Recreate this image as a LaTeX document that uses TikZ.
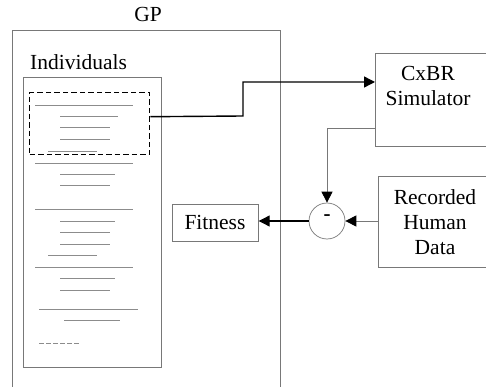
\documentclass[tikz,border=0pt]{standalone}
\usepackage{fontspec}
\setmainfont{Liberation Serif}
\usetikzlibrary{arrows.meta}
\definecolor{boxgray}{RGB}{120,120,120}
\definecolor{linegray}{RGB}{140,140,140}
\tikzset{
  frame/.style={draw=boxgray, line width=0.7pt, inner sep=0pt, anchor=north west},
  label/.style={inner sep=0pt, align=center, font=\fontsize{21.5}{25}\selectfont},
  codeline/.style={draw=linegray, line width=0.7pt},
  tip/.style={-{Triangle[length=11pt,width=11pt,black]}},
  flow/.style={tip, draw=black, line width=1.4pt},
  feed/.style={tip, draw=boxgray, line width=0.8pt},
}
\begin{document}
\begin{tikzpicture}[x=1pt,y=-1pt]
\useasboundingbox (0,0) rectangle (486,387);
\clip (0,0) rectangle (486,387);

% GP container and individuals list
\node[frame, minimum width=268pt, minimum height=380pt] (gp) at (12,30) {};
\node[label] (gptitle) at (148,14) {GP};
\node[label, anchor=west] (indtitle) at (30,62) {Individuals};
\node[frame, minimum width=138pt, minimum height=290pt] (pop) at (23,77) {};
\node[draw=black, line width=1.4pt, dash pattern=on 5.5pt off 3pt, inner sep=0pt,
      minimum width=120pt, minimum height=62pt, anchor=north west] (sel) at (29,92) {};

% program text lines
\foreach \ya/\xa/\xb in {105/35/133, 116/60/118, 127/60/110, 139/60/110, 151/48/97,
    163/35/133, 174/60/115, 185/60/110, 209/35/133, 221/60/115, 232/60/110,
    244/60/110, 255/48/97, 267/35/133, 278/60/115, 290/60/110, 309/39/138, 320/64/120}
  \draw[codeline] (\xa,\ya) -- (\xb,\ya);
\draw[codeline, dash pattern=on 5pt off 2pt] (39,343) -- (79,343);

% simulator, recorded data, comparison and fitness
\node[frame, minimum width=140pt, minimum height=93pt] (sim) at (375,53) {};
\node[label] (simtext) at (428,85.5) {CxBR\\Simulator};
\node[frame, minimum width=140pt, minimum height=91pt] (rec) at (378,176) {};
\node[label] (rectext) at (435,222) {Recorded\\Human\\Data};
\node[draw=boxgray, line width=0.7pt, circle, minimum size=36pt, inner sep=0pt] (diff) at (327,221) {};
\node[inner sep=0pt, font=\fontsize{21}{25}\selectfont\bfseries] (minus) at (327,218) {-};
\node[frame, minimum width=86pt, minimum height=37pt] (fit) at (172,204) {};
\node[label] (fittext) at (215,222.5) {Fitness};

% connectors
\coordinate (selout) at ([yshift=7pt]sel.east);
\coordinate (simin) at (sim.north west |- 0,82);
\coordinate (simout) at (sim.north west |- 0,128);
\coordinate (recout) at (rec.north west |- 0,221);
\draw[flow] (selout) -- (243,116) |- (simin);
\draw[feed] (simout) -| (diff.north);
\draw[feed] (recout) -- (diff.east);
\draw[flow, line width=1.1pt] (diff.west) -- (fit.east |- diff.west);
\end{tikzpicture}
\end{document}
